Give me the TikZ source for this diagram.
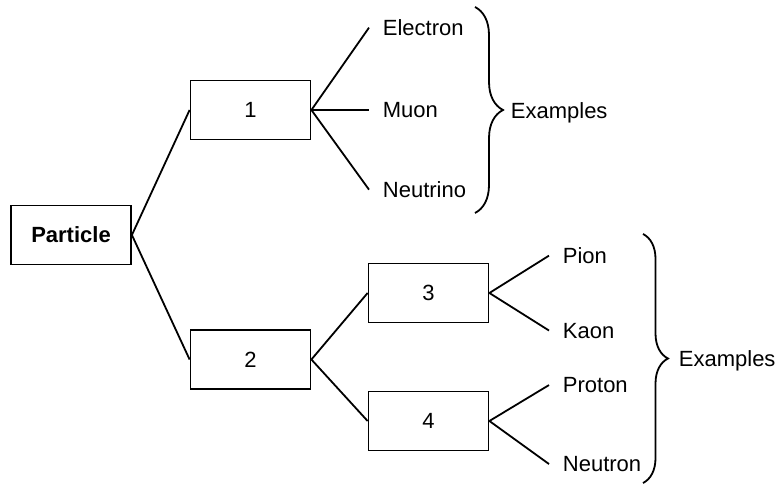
\documentclass[tikz,border=0pt]{standalone}
\usepackage{fontspec}
\setmainfont{Liberation Sans}
\usepackage{tikz}
\usetikzlibrary{decorations.pathreplacing}

\begin{document}
\begin{tikzpicture}[x=0.5pt, y=-0.5pt, line width=0.9pt, every node/.style={font=\fontsize{11}{13}\selectfont}]
	\tikzset{box/.style={draw, minimum width=60pt, minimum height=29.5pt, inner sep=0pt},
		leaf/.style={anchor=base west, inner xsep=6.5pt, inner ysep=0pt},
		curly/.style={decorate, decoration={brace, amplitude=#1}}}
		\useasboundingbox (0,0) rectangle (779,485);
		% tree boxes
		\node[box, font=\fontsize{11}{13}\selectfont\bfseries] (particle) at (71,235) {Particle};
		\node[box] (b1) at (250.5,110) {1};
		\node[box] (b2) at (250.5,359.5) {2};
		\node[box] (b3) at (428.5,293) {3};
		\node[box] (b4) at (428.5,421) {4};
		% leaves
		\node[leaf] (electron) at (369,35.5) {Electron};
		\node[leaf] (muon) at (369,118) {Muon};
		\node[leaf] (neutrino) at (369,197.5) {Neutrino};
		\node[leaf] (pion) at (549,263.5) {Pion};
		\node[leaf] (kaon) at (549,338) {Kaon};
		\node[leaf] (proton) at (549,392.5) {Proton};
		\node[leaf] (neutron) at (549,471.5) {Neutron};
		\draw (particle.east)--(b1.west);
		\draw (particle.east)--(b2.west);
		\draw (b2.east)--(b3.west);
		\draw (b2.east)--(b4.west);
		\draw (b1.east)--(electron.west);
		\draw (b1.east)--(b1.east-|muon.west);
		\draw (b1.east)--(neutrino.west);
		\draw (b3.east)--(pion.west);
		\draw (b3.east)--(kaon.west);
		\draw (b4.east)--(proton.west);
		\draw (b4.east)--(neutron.west);
		% braces
		\draw[curly=14pt] (475,7)--(475,213);
		\draw[curly=12.5pt] (643,234)--(643,483);
		\node[anchor=base west, inner sep=0pt] (ex1) at (510,118.5) {Examples};
		\node[anchor=base west, inner sep=0pt] (ex2) at (678,366.5) {Examples};
	\end{tikzpicture}
\end{document}
